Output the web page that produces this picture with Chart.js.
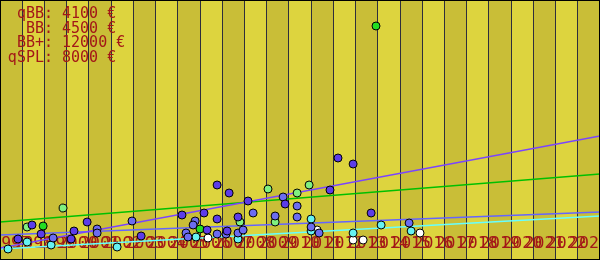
<!DOCTYPE html>
<html>
<head>
<meta charset="utf-8">
<script src="https://cdn.jsdelivr.net/npm/chart.js@4"></script>
<style>
    html, body { margin: 0; padding: 0; background: #ffffff; }
    #wrap { width: 600px; height: 260px; }
</style>
</head>
<body>
<div id="wrap"><canvas id="chart"></canvas></div>
<script>
// years shown as bands along the x axis
const years = [1997, 1998, 1999, 2000, 2001, 2002, 2003, 2004, 2005, 2006, 2007, 2008, 2009, 2010,
    2011, 2012, 2013, 2014, 2015, 2016, 2017, 2018, 2019, 2020, 2021, 2022, 2023];

// price summary in the top-left corner
const legendNames = ['qBB', 'BB', 'BB+', 'qSPL'];
const legendPrices = [4100, 4500, 12000, 8000];

// points: [year, price €]
const bbPoints = [
    [2012.21, 10200], [2012.89, 9600], [2006.77, 7500], [2007.31, 6700], [2011.85, 7000],
    [2008.16, 5900], [2009.83, 5600], [2005.19, 4500], [2006.18, 4700], [2007.71, 4300],
    [2006.77, 4100], [2006.32, 3000], [2007.22, 2900], [1998.44, 3500], [2000.92, 3800],
    [1998.85, 2600], [1997.81, 2100], [2000.33, 2900], [2000.20, 2100], [2003.35, 2400],
    [2013.70, 4700]
];
const qbbPoints = [
    [2009.74, 6300], [2010.37, 5400], [2008.39, 4700], [2009.38, 4400], [2010.37, 4300],
    [2005.78, 3900], [2005.69, 3500], [2005.37, 2700], [2005.46, 2300], [2006.77, 2600],
    [2007.17, 2600], [2007.71, 2700], [2007.94, 3000], [2011.00, 3300], [2011.36, 2700],
    [2002.94, 3900], [1999.39, 2200], [2001.37, 3100], [2001.37, 2700], [2015.41, 3700]
];
const qsplPoints = [
    [2009.06, 7100], [2010.91, 7500], [2010.37, 6700], [2009.38, 3800], [2007.80, 3800],
    [1999.84, 5200], [1998.22, 3300]
];
const bbPlusPoints = [
    [2013.92, 23400], [1998.94, 3400], [2006.00, 3100]
];
const cyanPoints = [
    [2011.00, 4100], [2007.71, 2100], [2005.82, 2300], [2011.00, 2900], [2014.15, 3500],
    [2012.89, 2700], [2015.50, 2900], [1997.36, 1100], [1998.22, 1800], [1999.30, 1500],
    [2002.27, 1300]
];
const whitePoints = [
    [2006.36, 2200], [2011.27, 3000], [2012.89, 2000], [2013.34, 2000], [2015.90, 2700]
];

// trend lines: price at the first and last year edge
const bbTrend = [1200, 12400];
const qsplTrend = [3800, 8600];
const qbbTrend = [2500, 4800];
const cyanTrend = [1100, 4400];

const X_MIN = years[0];
const X_MAX = years[years.length - 1] + 1;

const toXY = arr => arr.map(p => ({ x: p[0], y: p[1] }));
const trend = t => [{ x: X_MIN, y: t[0] }, { x: X_MAX, y: t[1] }];

function pointSet(data, color) {
    return {
        type: 'scatter',
        data: toXY(data),
        backgroundColor: color,
        borderColor: '#000000',
        borderWidth: 1,
        pointRadius: 4,
        order: 1
    };
}

function lineSet(data, color) {
    return {
        type: 'line',
        data: trend(data),
        borderColor: color,
        borderWidth: 1.5,
        pointRadius: 0,
        fill: false,
        order: 2
    };
}

const bandsPlugin = {
    id: 'bands',
    beforeDraw(chart) {
        const { ctx, chartArea, scales } = chart;
        ctx.save();
        years.forEach((yr, i) => {
            const x0 = scales.x.getPixelForValue(yr);
            const x1 = scales.x.getPixelForValue(yr + 1);
            ctx.fillStyle = i % 2 === 0 ? '#c9be37' : '#ddd43e';
            ctx.fillRect(x0, chartArea.top, x1 - x0, chartArea.bottom - chartArea.top);
        });
        ctx.restore();
    }
};

// year labels sit inside the plot, one per band, overlapping like the original
const yearLabelsPlugin = {
    id: 'yearLabels',
    beforeDatasetsDraw(chart) {
        const { ctx, scales } = chart;
        ctx.save();
        ctx.font = '16.5px "DejaVu Sans Mono", monospace';
        ctx.fillStyle = '#a31818';
        ctx.textAlign = 'center';
        ctx.textBaseline = 'middle';
        years.forEach(yr => {
            ctx.fillText(String(yr), scales.x.getPixelForValue(yr + 0.5), 244);
        });
        ctx.restore();
    }
};

const framePlugin = {
    id: 'frame',
    afterDraw(chart) {
        const { ctx, width, height } = chart;
        ctx.save();
        ctx.strokeStyle = '#000000';
        ctx.lineWidth = 1;
        ctx.strokeRect(0.5, 0.5, width - 1, height - 1);

        ctx.font = '15px "DejaVu Sans Mono", monospace';
        ctx.fillStyle = '#a31818';
        ctx.textBaseline = 'alphabetic';
        legendNames.forEach((name, i) => {
            const y = 18 + i * 14.5;
            ctx.textAlign = 'right';
            ctx.fillText(name + ':', 53, y);
            ctx.textAlign = 'left';
            ctx.fillText(' ' + legendPrices[i] + ' €', 53, y);
        });
        ctx.restore();
    }
};

new Chart(document.getElementById('chart'), {
    type: 'scatter',
    data: {
        datasets: [
            pointSet(bbPoints, '#5c3ce8'),
            pointSet(qbbPoints, '#6c6cf0'),
            pointSet(qsplPoints, '#80f080'),
            pointSet(bbPlusPoints, '#22dd22'),
            pointSet(cyanPoints, '#66f2f2'),
            pointSet(whitePoints, '#ffffff'),
            lineSet(bbTrend, '#7a44ff'),
            lineSet(qsplTrend, '#00c000'),
            lineSet(qbbTrend, '#6464ff'),
            lineSet(cyanTrend, '#66ffff')
        ]
    },
    options: {
        responsive: true,
        maintainAspectRatio: false,
        animation: false,
        layout: { padding: 0, autoPadding: false },
        plugins: {
            legend: { display: false },
            tooltip: { enabled: false }
        },
        scales: {
            x: {
                type: 'linear',
                min: X_MIN,
                max: X_MAX,
                afterBuildTicks: scale => {
                    scale.ticks = years.concat([X_MAX]).map(v => ({ value: v }));
                },
                afterFit: scale => { scale.height = 0; },
                ticks: { display: false },
                grid: { color: '#2e2e3c', lineWidth: 1, drawTicks: false },
                border: { display: false }
            },
            y: {
                display: false,
                min: 0,
                max: 26000
            }
        }
    },
    plugins: [bandsPlugin, yearLabelsPlugin, framePlugin]
});
</script>
</body>
</html>
